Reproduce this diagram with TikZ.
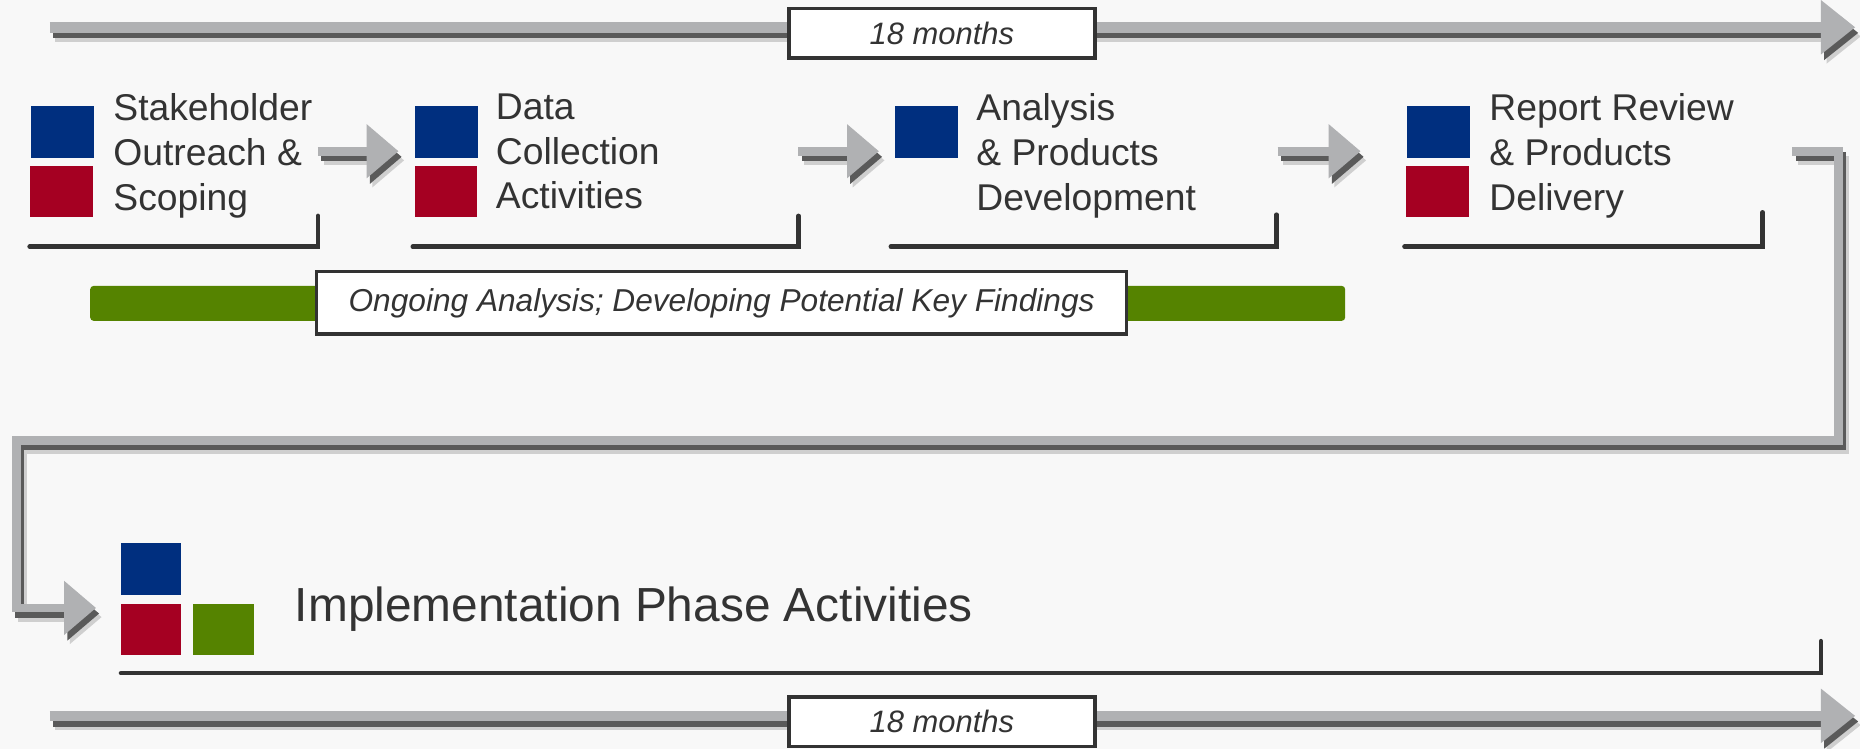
\documentclass[tikz,border=0pt]{standalone}
\usepackage{fontspec}
\setmainfont{Liberation Sans}
\usetikzlibrary{arrows.meta}
\newlength\unitpx
\setlength\unitpx{0.011862cm}
\definecolor{bgc}{HTML}{F8F8F8}
\definecolor{dblue}{HTML}{002F7F}
\definecolor{dred}{HTML}{A50022}
\definecolor{dgreen}{HTML}{558300}
\definecolor{agray}{HTML}{B0B1B3}
\definecolor{sgray}{HTML}{5A5A5A}
\definecolor{sgrayl}{HTML}{CFCFCF}
\definecolor{txt}{HTML}{333333}
\newcommand\grayarrow[2]{%
  \begin{scope}[transform canvas={shift={(1.6pt,-2.6pt)}}]\draw[#1, draw=sgrayl] #2;\end{scope}%
  \begin{scope}[transform canvas={shift={(0.9pt,-1.6pt)}}]\draw[#1, draw=sgray] #2;\end{scope}%
  \draw[#1] #2;}
\begin{document}
\begin{tikzpicture}[x=0.011862cm,y=-0.011862cm,
  sq/.style={rectangle, inner sep=0pt, draw=none, minimum width=53\unitpx, minimum height=43.6\unitpx},
  lbl/.style={anchor=north west, inner sep=0pt, align=left, text=txt, font=\fontsize{10.6pt}{12.7pt}\selectfont},
  brk/.style={draw=txt, line width=1.3pt, line cap=round, line join=miter},
  garrowbase/.style={draw=agray, line join=miter},
  bigarrow/.style={garrowbase, line width=3.03pt, -{Triangle[length=9.75pt, width=14.8pt]}},
  smallarrow/.style={garrowbase, line width=2.52pt, -{Triangle[length=9.08pt, width=14.8pt]}},
  mbox/.style={draw=txt, line width=1pt, fill=white, inner sep=0pt, minimum width=258\unitpx, minimum height=42\unitpx, text=txt, font=\fontsize{8.8pt}{10pt}\selectfont\itshape},
  obox/.style={draw=txt, line width=1pt, fill=white, inner sep=0pt, minimum width=683\unitpx, minimum height=52.6\unitpx, text=txt, font=\fontsize{9pt}{11pt}\selectfont\itshape}
]
\fill[bgc] (0,0) rectangle (1568,631.4);
\useasboundingbox (0,0) rectangle (1568,631.4);

% timelines
\coordinate (ts) at (42,23);
\coordinate (te) at (1564,23);
\coordinate (bs) at (42,603.5);
\coordinate (be) at (1564,603.5);
\grayarrow{bigarrow}{(ts) -- (te)}
\grayarrow{bigarrow}{(bs) -- (be)}
\node[mbox] (m1) at (794,28) {18 months};
\node[mbox] (m2) at (794,608.5) {18 months};

% step 1
\node[sq, fill=dblue] (b1) at (52.5,111.2) {};
\node[sq, fill=dred, minimum height=42.7\unitpx] (r1) at (52,161.4) {};
\node[lbl] (t1) at (95,78.5) {Stakeholder\\Outreach \&\\Scoping};
\draw[brk] (25,208) -- (268,208) -- (268,182);

% step 2
\node[sq, fill=dblue] (b2) at (376.3,111.2) {};
\node[sq, fill=dred, minimum height=42.7\unitpx] (r2) at (376,161.4) {};
\node[lbl] (t2) at (417.5,78.5) {Data\\Collection\\Activities};
\draw[brk] (348,208) -- (673,208) -- (673,182);

% step 3
\node[sq, fill=dblue] (b3) at (781,111.2) {};
\node[lbl] (t3) at (822.5,78.5) {Analysis\\\& Products\\Development};
\draw[brk] (751,208) -- (1076,208) -- (1076,181);

% step 4
\node[sq, fill=dblue] (b4) at (1212.6,111.2) {};
\node[sq, fill=dred, minimum height=42.7\unitpx] (r4) at (1212,161.4) {};
\node[lbl] (t4) at (1255,78.5) {Report Review\\\& Products\\Delivery};
\draw[brk] (1184,208) -- (1486,208) -- (1486,179);

% step arrows
\coordinate (a1s) at (268,127.5); \coordinate (a1e) at (336,127.5);
\coordinate (a2s) at (673,127.5); \coordinate (a2e) at (741,127.5);
\coordinate (a3s) at (1077,127.5); \coordinate (a3e) at (1147,127.5);
\grayarrow{smallarrow}{(a1s) -- (a1e)}
\grayarrow{smallarrow}{(a2s) -- (a2e)}
\grayarrow{smallarrow}{(a3s) -- (a3e)}

% ongoing bar
\fill[dgreen, rounded corners=1pt] (76,241) rectangle (1134,270.5);
\node[obox] (ob) at (608.3,255.3) {Ongoing Analysis; Developing Potential Key Findings};

% connector to implementation
\coordinate (c0) at (1511,127.5);
\coordinate (c1) at (1550,127.5);
\coordinate (c2) at (1550,371);
\coordinate (c3) at (14,371);
\coordinate (c4) at (14,512.5);
\coordinate (c5) at (81,512.5);
\grayarrow{smallarrow}{(c0) -- (c1) -- (c2) -- (c3) -- (c4) -- (c5)}

% implementation
\node[sq, fill=dblue, minimum width=51\unitpx, minimum height=44\unitpx] (bi) at (127.5,480) {};
\node[sq, fill=dred, minimum width=51\unitpx, minimum height=43\unitpx] (ri) at (127.5,530.5) {};
\node[sq, fill=dgreen, minimum width=51\unitpx, minimum height=43\unitpx] (gi) at (188.5,530.5) {};
\node[anchor=base west, inner sep=0pt, text=txt, font=\fontsize{13.6pt}{16pt}\selectfont] (impl) at (248,524) {Implementation Phase Activities};
\draw[brk] (102,567.5) -- (1535,567.5) -- (1535,540.5);
\end{tikzpicture}
\end{document}
